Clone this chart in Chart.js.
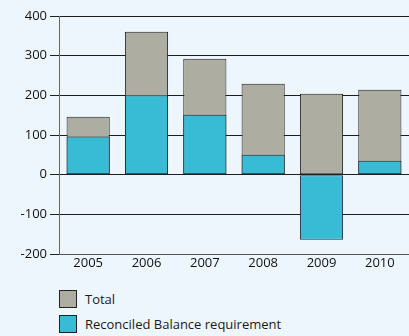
<!DOCTYPE html>
<html>
<head>
<meta charset="utf-8">
<script src="https://cdn.jsdelivr.net/npm/chart.js@4/dist/chart.umd.min.js"></script>
<style>
    html, body { margin: 0; padding: 0; background: #edf6fc; }
    #wrap { position: relative; width: 409px; height: 336px; overflow: hidden; }
    #chart { position: absolute; left: 0; top: 0; }
    .legend { position: absolute; left: 59px; font-family: "Open Sans", sans-serif; font-size: 13px; color: #1a1a1a; }
    .legend .item { position: absolute; left: 0; white-space: nowrap; height: 18px; line-height: 18px; }
    .legend .box { position: absolute; left: 0; top: 0; width: 16px; height: 16px; border: 1px solid #222; }
    .legend .label { position: absolute; left: 26px; top: 0; }
</style>
</head>
<body>
<div id="wrap">
    <canvas id="chart" width="409" height="280"></canvas>
    <div class="legend">
        <div class="item" style="top:290px"><span class="box" style="background:#adada1"></span><span class="label">Total</span></div>
        <div class="item" style="top:315px"><span class="box" style="background:#38bbd5"></span><span class="label">Reconciled Balance requirement</span></div>
    </div>
</div>
<script>
const years = ['2005', '2006', '2007', '2008', '2009', '2010'];
const totalValues = [146, 360, 292, 229, 204, 214];
const reconciledValues = [96, 200, 151, 50, -164, 35];
const yTicks = [-200, -100, 0, 100, 200, 300, 400];

document.addEventListener('DOMContentLoaded', function () {
    const ctx = document.getElementById('chart').getContext('2d');
    const tickFont = { family: '"Open Sans", sans-serif', size: 13 };

    new Chart(ctx, {
        type: 'bar',
        data: {
            labels: years,
            datasets: [
                {
                    label: 'Reconciled Balance requirement',
                    data: reconciledValues,
                    backgroundColor: '#38bbd5',
                    borderColor: '#1e2a30',
                    borderWidth: 1,
                    borderSkipped: false,
                    barPercentage: 0.74,
                    categoryPercentage: 1,
                    order: 0
                },
                {
                    label: 'Total',
                    data: totalValues,
                    backgroundColor: '#adada1',
                    borderColor: '#222222',
                    borderWidth: 1,
                    borderSkipped: false,
                    barPercentage: 0.74,
                    categoryPercentage: 1,
                    order: 1
                }
            ]
        },
        options: {
            responsive: false,
            animation: false,
            layout: { padding: { top: 16, right: 0, left: 0, bottom: 0 } },
            plugins: {
                legend: { display: false },
                tooltip: { enabled: false }
            },
            scales: {
                x: {
                    stacked: true,
                    afterFit: function (axis) { axis.height = 26; },
                    grid: { display: false, drawTicks: false },
                    border: { display: true, color: '#555', width: 1 },
                    ticks: { color: '#111', font: tickFont, padding: 1 }
                },
                y: {
                    stacked: false,
                    min: -200,
                    max: 400,
                    afterBuildTicks: function (axis) {
                        axis.ticks = yTicks.map(function (v) { return { value: v }; });
                    },
                    afterFit: function (axis) { axis.width = 59; },
                    grid: { color: '#1e1e1e', lineWidth: 1, tickLength: 9, tickColor: '#1e1e1e' },
                    border: { display: true, color: '#666', width: 1 },
                    ticks: { color: '#111', font: tickFont, padding: 3 }
                }
            }
        }
    });
});
</script>
</body>
</html>
